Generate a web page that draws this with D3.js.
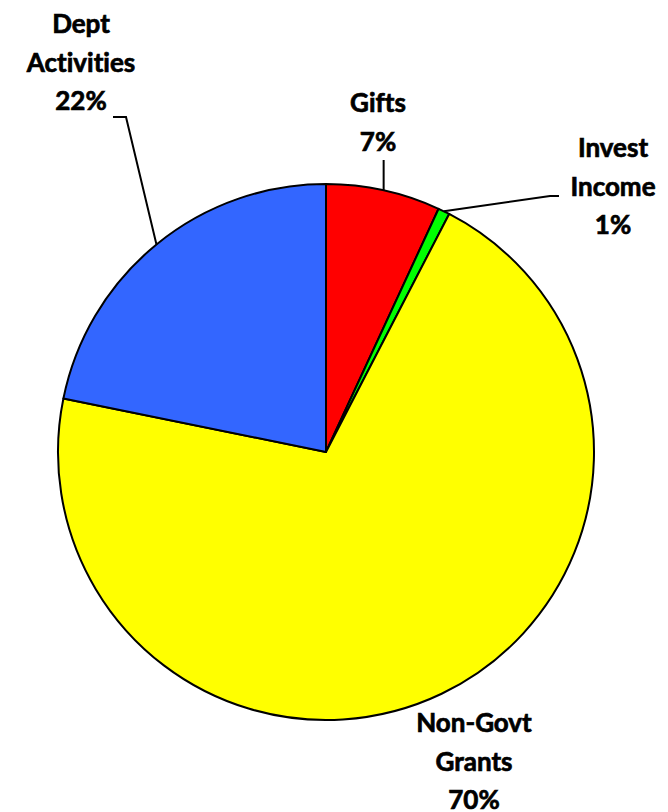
<!DOCTYPE html>
<html>
<head>
<meta charset="utf-8">
<script src="https://cdn.jsdelivr.net/npm/d3@7"></script>
<style>
  html, body { margin: 0; padding: 0; background: #fff; }
  svg { display: block; }
  text { font-family: Lato, "Open Sans", sans-serif; font-weight: 700; fill: #000;
         stroke: #000; stroke-width: 0.7px; font-variant-ligatures: none; }
</style>
</head>
<body>
<svg id="chart" width="668" height="812"></svg>
<script>
// ---- data ----
const categories = ["Gifts", "Invest Income", "Non-Govt Grants", "Dept Activities"];
const labelLines = [["Gifts"], ["Invest", "Income"], ["Non-Govt", "Grants"], ["Dept", "Activities"]];
const values = [6.9, 0.7, 70.6, 21.8];
const percentLabels = ["7%", "1%", "70%", "22%"];
const colors = ["#FF0000", "#00FF00", "#FFFF00", "#3366FF"];

// ---- layout ----
const svg = d3.select("#chart");
const cx = 326, cy = 452, R = 268;
const g = svg.append("g").attr("transform", `translate(${cx},${cy})`);

const pie = d3.pie().sort(null).value(d => d)(values);
const arc = d3.arc().innerRadius(0).outerRadius(R);

g.selectAll("path.slice").data(pie).enter().append("path")
  .attr("class", "slice")
  .attr("d", arc)
  .attr("fill", (d, i) => colors[i])
  .attr("stroke", "#000")
  .attr("stroke-width", 2)
  .attr("stroke-linejoin", "round");

// label placement (page coordinates of text centre / first baseline)
const labelPos = [
  { x: 378, y: 112 },
  { x: 613, y: 157 },
  { x: 474, y: 732 },
  { x: 81,  y: 33 }
];
const lineH = 38.5;

function edgePoint(d) {
  const a = (d.startAngle + d.endAngle) / 2;
  return [cx + R * Math.sin(a), cy - R * Math.cos(a)];
}
const leaders = [
  () => { const p = edgePoint(pie[0]); return [[p[0], 160], p]; },
  () => { const p = edgePoint(pie[1]); return [[559, 196], [550, 196], p]; },
  null,
  () => { const p = edgePoint(pie[3]); return [[113, 117], [126, 117], p]; }
];
leaders.forEach(f => {
  if (!f) return;
  svg.append("path")
    .attr("d", d3.line()(f()))
    .attr("fill", "none")
    .attr("stroke", "#000")
    .attr("stroke-width", 2);
});

labelLines.forEach((lines, i) => {
  const t = svg.append("text")
    .attr("text-anchor", "middle")
    .attr("font-size", 26);
  lines.concat([percentLabels[i]]).forEach((s, k) => {
    t.append("tspan")
      .attr("x", labelPos[i].x)
      .attr("y", labelPos[i].y + k * lineH)
      .text(s);
  });
});
</script>
</body>
</html>
